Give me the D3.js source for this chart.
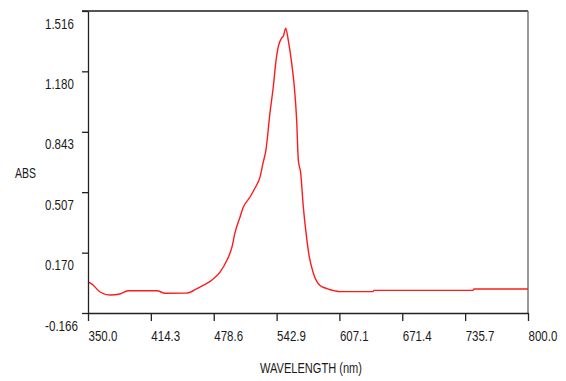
<!DOCTYPE html>
<html><head><meta charset="utf-8">
<script src="https://cdn.jsdelivr.net/npm/d3@7"></script>
<style>
body{margin:0;background:#fff;}
text{font-family:"Liberation Sans",Arial,sans-serif;font-size:15px;fill:#1a1a1a;}
</style></head><body>
<svg id="c" width="566" height="381"></svg>
<script>
const wavelength = [350,354.1,362.3,372.5,382.7,390.9,420.6,428.8,451.3,462.5,469.7,476.8,485.0,492.2,497.3,500.3,505.5,508.5,515.7,520.8,525.9,529.0,532.0,536.1,539.5,542.0,544.6,548.1,549.9,552.2,554.8,558.3,561.0,563.4,565.1,567.5,570.2,573.0,576.3,580.4,587.3,594.4,602.6,607.7,641.5,642.5,743.8,744.8,800];
const absorbance = [0.008,-0.005,-0.049,-0.066,-0.060,-0.042,-0.042,-0.056,-0.055,-0.027,-0.007,0.018,0.062,0.129,0.202,0.280,0.369,0.419,0.480,0.530,0.591,0.669,0.742,0.948,1.094,1.226,1.317,1.366,1.377,1.420,1.354,1.226,1.094,0.909,0.686,0.614,0.426,0.280,0.148,0.057,-0.013,-0.030,-0.043,-0.047,-0.047,-0.040,-0.040,-0.032,-0.032];
const xTicks = [350.0,414.3,478.6,542.9,607.1,671.4,735.7,800.0];
const yTicks = [-0.166,0.170,0.507,0.843,1.180,1.516];
const xTitle = "WAVELENGTH (nm)";
const yTitle = "ABS";

const L=88,R=528,T=11,B=313;
const x=d3.scaleLinear().domain([350,800]).range([L,R]);
const y=d3.scaleLinear().domain([-0.166,1.516]).range([B,T]);
const svg=d3.select("#c");

function narrowLen(s){let w=0;for(const c of s){w+= c==="."?3.2:(c==="-"?4.3:6.4);}return w;}

svg.append("line").attr("x1",L-6).attr("x2",R).attr("y1",T).attr("y2",T).attr("stroke","#555").attr("stroke-width",2);
svg.append("line").attr("x1",R).attr("x2",R).attr("y1",T).attr("y2",B).attr("stroke","#777").attr("stroke-width",1.5);

svg.append("path").datum(wavelength.map((w,i)=>[w,absorbance[i]]))
 .attr("fill","none").attr("stroke","#ff1a1a").attr("stroke-width",1.4)
 .attr("d",d3.line().x(d=>x(d[0])).y(d=>y(d[1])).curve(d3.curveMonotoneX));

const fmtY=d=>d3.format(".3f")(d).replace("\u2212","-");
const fmtX=d=>d3.format(".1f")(d).replace("\u2212","-");

const ya=svg.append("g").attr("transform",`translate(${L},0)`)
 .call(d3.axisLeft(y).tickValues(yTicks).tickSize(6).tickSizeOuter(0).tickFormat(fmtY));
ya.attr("font-family",null).attr("font-size",null);
ya.select(".domain").attr("stroke","#222").attr("stroke-width",1.3);
ya.selectAll(".tick line").attr("stroke","#222").attr("stroke-width",1.3);
ya.selectAll(".tick text").attr("x",-43).attr("dy","17").attr("text-anchor","start").attr("fill","#1a1a1a")
  .attr("textLength",d=>narrowLen(fmtY(d))).attr("lengthAdjust","spacingAndGlyphs");

const xa=svg.append("g").attr("transform",`translate(0,${B})`)
 .call(d3.axisBottom(x).tickValues(xTicks).tickSize(8).tickSizeOuter(0).tickFormat(fmtX));
xa.attr("font-family",null).attr("font-size",null);
xa.select(".domain").attr("stroke","#222").attr("stroke-width",1.3);
xa.selectAll(".tick line").attr("stroke","#222").attr("stroke-width",1.3);
xa.selectAll(".tick text").attr("y",27.5).attr("dy",null).attr("x",0).attr("text-anchor","start").attr("fill","#1a1a1a")
  .attr("textLength",d=>narrowLen(fmtX(d))).attr("lengthAdjust","spacingAndGlyphs");

svg.append("text").attr("x",15).attr("y",178).attr("textLength",21).attr("lengthAdjust","spacingAndGlyphs").text(yTitle);
svg.append("text").attr("x",260).attr("y",373).attr("textLength",102).attr("lengthAdjust","spacingAndGlyphs").text(xTitle);
</script>
</body></html>
